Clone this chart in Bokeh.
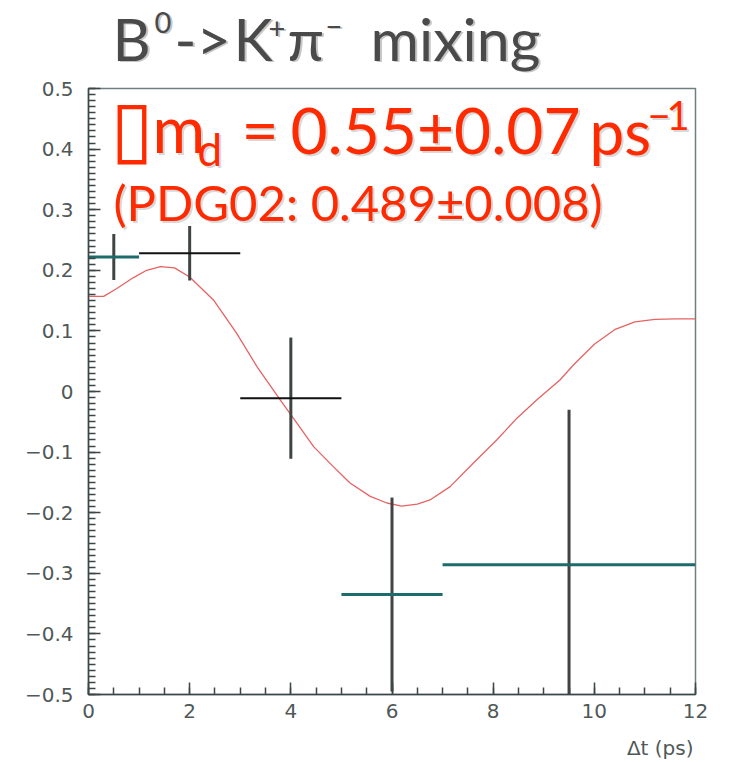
from bokeh.plotting import figure
from bokeh.models import Range1d, FixedTicker, Label
from bokeh.layouts import column
from bokeh.embed import file_html
from bokeh.resources import INLINE
import numpy as np

# ---------------- data ----------------
t_center = [0.5, 2.0, 4.0, 6.0, 9.5]
t_half = [0.5, 1.0, 1.0, 1.0, 2.5]
asym = [0.222, 0.228, -0.011, -0.335, -0.286]
asym_err = [0.038, 0.045, 0.100, 0.160, 0.256]

fit_t = [0.0, 0.3, 0.56, 0.89, 1.15, 1.42, 1.7, 2.0, 2.47, 2.93, 3.33, 3.79,
         4.12, 4.45, 4.84, 5.17, 5.57, 5.9, 6.19, 6.5, 6.75, 7.15, 7.61, 8.07,
         8.47, 8.86, 9.32, 9.6, 10.0, 10.4, 10.8, 11.2, 11.6, 12.0]
fit_a = [0.157, 0.157, 0.170, 0.188, 0.200, 0.206, 0.204, 0.189, 0.151, 0.096,
         0.041, -0.014, -0.052, -0.091, -0.124, -0.151, -0.173, -0.184, -0.189,
         -0.186, -0.179, -0.157, -0.118, -0.080, -0.044, -0.014, 0.019, 0.045,
         0.078, 0.102, 0.115, 0.119, 0.120, 0.120]

x_tick_vals = [0, 2, 4, 6, 8, 10, 12]
x_tick_labels = ["0", "2", "4", "6", "8", "10", "12"]
y_tick_vals = [-0.5, -0.4, -0.3, -0.2, -0.1, 0.0, 0.1, 0.2, 0.3, 0.4, 0.5]
y_tick_labels = ["\u22120.5", "\u22120.4", "\u22120.3", "\u22120.2", "\u22120.1", "0",
                 "0.1", "0.2", "0.3", "0.4", "0.5"]

x_title = "\u0394t (ps)"

# styles (one per point)
hbar_colors = ["#1e6b6b", "#111111", "#111111", "#1e6b6b", "#1e6b6b"]
hbar_widths = [3, 2, 2, 3, 3]

W = 736
TOP_H = 74          # title strip
BOT_H = 28          # x-title strip
MAIN_H = 762 - TOP_H - BOT_H
LEFT, RIGHT, TOP, BOTTOM = 88, 41, 14, 40
FRAME_TOP_PAGE = TOP_H + TOP  # 88
# empirical baseline correction (fraction of font size) per font
BASE_FIX = {"Lato": 0.37, "DejaVu Sans": 0.45}


def strip(h):
    # the column aligns the strips' frames with the main plot frame horizontally,
    # so the x data range equals page pixels over [LEFT, W-RIGHT]
    f = figure(width=W, height=h, output_backend="svg", toolbar_location=None,
               x_range=Range1d(LEFT, W - RIGHT), y_range=Range1d(h, 0), title=None,
               x_axis_location=None, y_axis_location=None,
               min_border_left=LEFT, min_border_right=RIGHT, min_border_top=0,
               min_border_bottom=0)
    f.xgrid.visible = False
    f.ygrid.visible = False
    f.outline_line_color = None
    f.background_fill_color = "white"
    f.border_fill_color = "white"
    return f


def add_text(fig, mapx, mapy, s, px, py, size, color, font="Lato",
             align="left", shadow=None, sdx=2, sdy=2):
    py = py - BASE_FIX[font] * size
    if shadow:
        fig.add_layout(Label(x=mapx(px + sdx), y=mapy(py + sdy), text=s, text_font=font,
                             text_font_size=f"{size}px", text_color=shadow,
                             text_align=align, text_baseline="alphabetic"))
    fig.add_layout(Label(x=mapx(px), y=mapy(py), text=s, text_font=font,
                         text_font_size=f"{size}px", text_color=color,
                         text_align=align, text_baseline="alphabetic"))


# ---------------- title strip ----------------
top = strip(TOP_H)
ident = lambda v: v
TC, TS = "#4a4a4a", "#c6c6c6"
add_text(top, ident, ident, "B", 112, 60, 59, TC, shadow=TS, sdx=2, sdy=1)
add_text(top, ident, ident, "0", 154, 33, 29, TC, shadow=TS, sdx=2, sdy=1)
add_text(top, ident, ident, "->", 174, 60, 59, TC, shadow=TS, sdx=2, sdy=1)
add_text(top, ident, ident, "K", 233, 60, 59, TC, shadow=TS, sdx=2, sdy=1)
add_text(top, ident, ident, "+", 268, 39, 29, TC, shadow=TS, sdx=2, sdy=1)
add_text(top, ident, ident, "\u03c0", 287, 60, 59, TC, shadow=TS, sdx=2, sdy=1)
add_text(top, ident, ident, "\u2212", 325, 37, 29, TC, shadow=TS, sdx=2, sdy=1)
add_text(top, ident, ident, "mixing", 370, 60, 59, TC, shadow=TS, sdx=2, sdy=1)

# ---------------- main plot ----------------
p = figure(width=W, height=MAIN_H, output_backend="svg", toolbar_location=None,
           x_range=Range1d(0, 12), y_range=Range1d(-0.5, 0.5), title=None,
           min_border_left=LEFT, min_border_right=RIGHT,
           min_border_top=TOP, min_border_bottom=BOTTOM)
p.background_fill_color = "white"
p.border_fill_color = "white"
p.outline_line_color = "#6f7f7f"
p.outline_line_width = 1.5
p.xgrid.visible = False
p.ygrid.visible = False

for ax in (p.xaxis[0], p.yaxis[0]):
    ax.axis_line_color = "#3c4646"
    ax.axis_line_width = 1.5
    ax.major_tick_line_color = "#3c4646"
    ax.minor_tick_line_color = "#3c4646"
    ax.major_tick_line_width = 1.5
    ax.minor_tick_line_width = 1.5
    ax.major_tick_in = 12
    ax.major_tick_out = 0
    ax.minor_tick_in = 7
    ax.minor_tick_out = 0
    ax.major_label_text_font = "DejaVu Sans"
    ax.major_label_text_font_size = "20px"
    ax.major_label_text_color = "#505858"

p.xaxis[0].ticker = FixedTicker(ticks=x_tick_vals,
                                minor_ticks=list(np.arange(0, 12.01, 0.5)))
p.xaxis[0].major_label_overrides = {v: s for v, s in zip(x_tick_vals, x_tick_labels)}
p.xaxis[0].major_label_standoff = 9
p.yaxis[0].ticker = FixedTicker(ticks=y_tick_vals,
                                minor_ticks=list(np.round(np.arange(-0.5, 0.501, 0.01), 3)))
p.yaxis[0].major_label_overrides = {v: s for v, s in zip(y_tick_vals, y_tick_labels)}
p.yaxis[0].major_label_standoff = 15

# fit curve
p.line(fit_t, fit_a, line_color="#e04848", line_width=1.3, line_alpha=0.85)

# error bars
tc = np.array(t_center); th = np.array(t_half)
ac = np.array(asym); ae = np.array(asym_err)
p.segment(x0=tc, y0=ac - ae, x1=tc, y1=ac + ae, line_color="#404444", line_width=3)
p.segment(x0=tc - th, y0=ac, x1=tc + th, y1=ac, line_color=hbar_colors,
          line_width=hbar_widths)

FW = W - LEFT - RIGHT
FH = MAIN_H - TOP - BOTTOM


def MX(px):
    return (px - LEFT) * 12.0 / FW


def MY(py):
    return 0.5 - (py - FRAME_TOP_PAGE) / FH


RC, RS = "#ff2a00", "#d8d8d8"
add_text(p, MX, MY, "\u25af", 110, 163, 78, RC, font="DejaVu Sans")
add_text(p, MX, MY, "m", 152, 152, 64, RC, shadow=RS)
add_text(p, MX, MY, "d", 197, 165, 44, RC, shadow=RS)
add_text(p, MX, MY, "=", 241, 152, 64, RC, shadow=RS)
add_text(p, MX, MY, "0.55\u00b10.07", 290, 153, 64, RC, shadow=RS)
add_text(p, MX, MY, "ps", 589, 153, 62, RC, shadow=RS)
add_text(p, MX, MY, "\u2212", 647, 130, 40, RC, shadow=RS)
add_text(p, MX, MY, "1", 666, 130, 40, RC, shadow=RS)
add_text(p, MX, MY, "(PDG02: 0.489\u00b10.008)", 113, 220, 49, RC, shadow=RS)

# ---------------- x-title strip ----------------
bot = strip(BOT_H)
y0 = TOP_H + MAIN_H
add_text(bot, ident, lambda v: v - y0, x_title, 693, 756, 20, "#505858",
         font="DejaVu Sans", align="right")

layout = column(top, p, bot, spacing=0)
open("out.html", "w").write(file_html(layout, INLINE))
